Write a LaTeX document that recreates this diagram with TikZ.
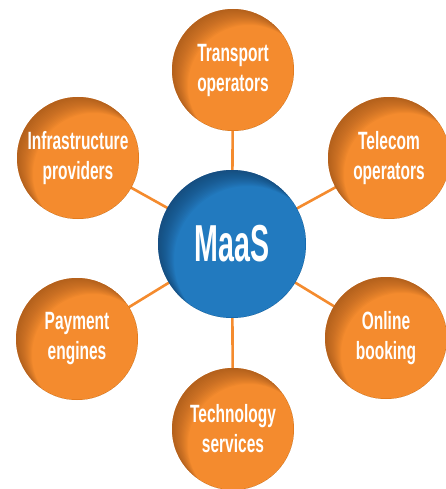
\documentclass[tikz,border=0pt]{standalone}
\usepackage{fontspec}
\setmainfont{Liberation Sans}[FakeStretch=0.62]
\newfontfamily\hubfont{Liberation Sans}[FakeStretch=0.55]
\usepackage{tikz}
\usetikzlibrary{positioning}
\definecolor{maasorange}{RGB}{244,139,46}
\definecolor{maasorangedark}{RGB}{150,80,25}
\definecolor{maasblue}{RGB}{34,122,191}
\definecolor{maasbluedark}{RGB}{22,60,100}

\begin{document}
\begin{tikzpicture}[x=1pt, y=-1pt,
		ball/.style n args={3}{circle, fill=#1, minimum size=2*#3, inner sep=0pt, text=white,
			path picture={\foreach \d in {1,2,...,16}
				\fill[#2, opacity=0.06, even odd rule] (path picture bounding box.center)
					circle (#3) ++(\d pt,-\d pt) circle (#3);}},
		partner/.style={ball={maasorange}{maasorangedark}{61pt}, align=center,
			font=\bfseries\fontsize{25}{30}\selectfont},
		hub/.style={ball={maasblue}{maasbluedark}{74pt},
			font=\hubfont\bfseries\fontsize{52}{60}\selectfont},
		link/.style={draw=maasorange, line width=2.6pt}]
		\useasboundingbox (0,0) rectangle (446,489);

		% spokes, drawn first so the circles cover them
		\coordinate (hubc) at (232,244);
		\foreach \c/\x/\y in {transport/233/70, infra/78/158, telecom/389/158,
				payment/77/339, booking/386/338, tech/233/429}
			\coordinate (\c c) at (\x,\y);
		\foreach \c in {transport, infra, telecom, payment, booking, tech}
			\draw[link] (hubc) -- (\c c);

		% hub and partner circles
		\node (maas) at (hubc) [hub] {MaaS};
		\node (transport) at (transportc) [partner] {Transport\\operators};
		\node (infra) at (infrac) [partner] {Infrastructure\\providers};
		\node (telecom) at (telecomc) [partner] {Telecom\\operators};
		\node (payment) at (paymentc) [partner] {Payment\\engines};
		\node (booking) at (bookingc) [partner] {Online\\booking};
		\node (tech) at (techc) [partner] {Technology\\services};
	\end{tikzpicture}
\end{document}
